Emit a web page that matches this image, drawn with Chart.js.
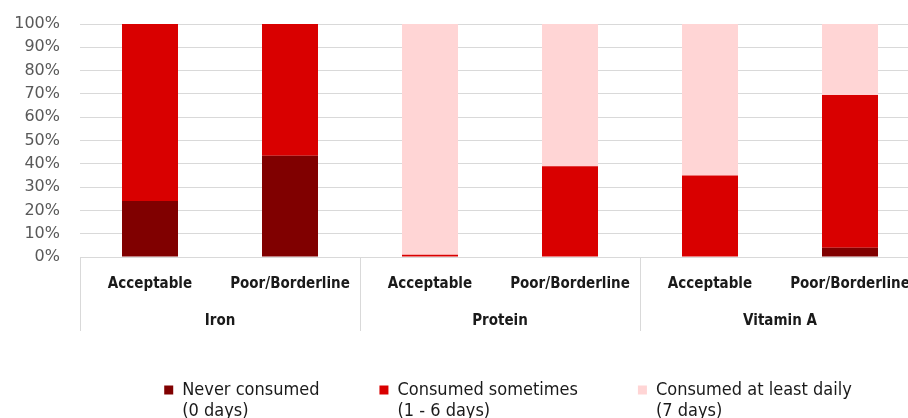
<!DOCTYPE html>
<html>
<head>
<meta charset="utf-8">
<script src="https://cdn.jsdelivr.net/npm/chart.js@4.4.1/dist/chart.umd.min.js"></script>
<style>
  html, body { margin: 0; padding: 0; background: #ffffff; overflow: hidden; }
  #wrap { width: 940px; height: 430px; }
</style>
</head>
<body>
<div id="wrap"><canvas id="chart" width="940" height="430"></canvas></div>
<script>
// Food consumption frequency by nutrient and consumption score group (share of households, %)
const subLabels = ['Acceptable', 'Poor/Borderline', 'Acceptable', 'Poor/Borderline', 'Acceptable', 'Poor/Borderline'];
const groupLabels = ['Iron', 'Protein', 'Vitamin A'];
const neverConsumed = [24, 43.5, 0, 0, 0, 4];
const consumedSometimes = [76, 56.5, 1, 39, 35, 65.5];
const consumedDaily = [0, 0, 99, 61, 65, 30.5];
const seriesNames = ['Never consumed', 'Consumed sometimes', 'Consumed at least daily'];
const seriesDays = ['(0 days)', '(1 - 6 days)', '(7 days)'];
const yTickValues = [0, 10, 20, 30, 40, 50, 60, 70, 80, 90, 100];

const gridGrey = '#d9d9d9';
const clear = 'rgba(0,0,0,0)';
const legendFont = { family: 'DejaVu Sans Condensed', size: 18, lineHeight: 1.2 };
const legendNudge = 8;
// separators only at the edges of each nutrient group
const groupEdge = (ctx) => (ctx.index !== undefined && ctx.index % 2 === 0) ? gridGrey : clear;

// legend: slight shift to the right, plus a second line (day range) under each series name
const legendSubline = {
  id: 'legendSubline',
  afterLayout(chart) {
    const legend = chart.legend;
    if (!legend) return;
    legend.left += legendNudge;
    legend.right += legendNudge;
  },
  afterDraw(chart) {
    const legend = chart.legend;
    if (!legend || !legend.legendHitBoxes) return;
    const opts = legend.options.labels;
    const ctx = chart.ctx;
    ctx.save();
    ctx.font = `${legendFont.size}px "${legendFont.family}"`;
    ctx.fillStyle = opts.color;
    ctx.textBaseline = 'middle';
    ctx.textAlign = 'left';
    legend.legendHitBoxes.forEach((box, i) => {
      const x = box.left + opts.boxWidth + legendFont.size / 2;
      const y = box.top + box.height / 2 + legendFont.size * legendFont.lineHeight;
      ctx.fillText(seriesDays[i], x, y);
    });
    ctx.restore();
  }
};

new Chart(document.getElementById('chart'), {
  type: 'bar',
  data: {
    labels: subLabels,
    datasets: [
      { label: seriesNames[0], data: neverConsumed, backgroundColor: '#800000' },
      { label: seriesNames[1], data: consumedSometimes, backgroundColor: '#d90000' },
      { label: seriesNames[2], data: consumedDaily, backgroundColor: '#ffd5d5' }
    ]
  },
  plugins: [legendSubline],
  options: {
    responsive: false,
    animation: false,
    devicePixelRatio: 1,
    layout: { padding: { left: 14, right: 20, top: 24, bottom: 21 } },
    datasets: {
      bar: { barPercentage: 0.4, categoryPercentage: 1.0, borderWidth: 0 }
    },
    scales: {
      y: {
        stacked: true,
        min: 0,
        max: 100,
        afterBuildTicks: (scale) => { scale.ticks = yTickValues.map(v => ({ value: v })); },
        afterFit: (scale) => { scale.width = 66; },
        ticks: {
          padding: 0,
          color: '#595959',
          font: { family: 'DejaVu Sans', size: 16 },
          callback: (v) => v + '%'
        },
        grid: { color: gridGrey, lineWidth: 1, drawTicks: true, tickLength: 20, tickColor: clear },
        border: { display: false }
      },
      x: {
        stacked: true,
        position: 'bottom',
        weight: 1,
        afterFit: (scale) => { scale.height = 36; },
        ticks: {
          mirror: true,
          padding: -36,
          maxRotation: 0,
          autoSkip: false,
          color: '#1a1a1a',
          font: { family: 'DejaVu Sans Condensed', size: 15, weight: 'bold' }
        },
        grid: {
          offset: true,
          drawOnChartArea: false,
          drawTicks: true,
          tickLength: 36,
          tickColor: groupEdge,
          color: groupEdge
        },
        border: { display: false }
      },
      x2: {
        type: 'category',
        labels: groupLabels,
        position: 'bottom',
        weight: 2,
        afterFit: (scale) => { scale.height = 28; },
        ticks: {
          mirror: true,
          padding: -37,
          maxRotation: 0,
          autoSkip: false,
          color: '#1a1a1a',
          font: { family: 'DejaVu Sans Condensed', size: 15, weight: 'bold' }
        },
        grid: {
          offset: true,
          drawOnChartArea: false,
          drawTicks: true,
          tickLength: 38,
          color: gridGrey,
          tickColor: gridGrey
        },
        border: { display: false }
      }
    },
    plugins: {
      legend: {
        position: 'bottom',
        fullSize: false,
        labels: {
          boxWidth: 9,
          boxHeight: 9,
          padding: 60,
          color: '#1a1a1a',
          font: legendFont
        }
      },
      tooltip: { enabled: false }
    }
  }
});
</script>
</body>
</html>
